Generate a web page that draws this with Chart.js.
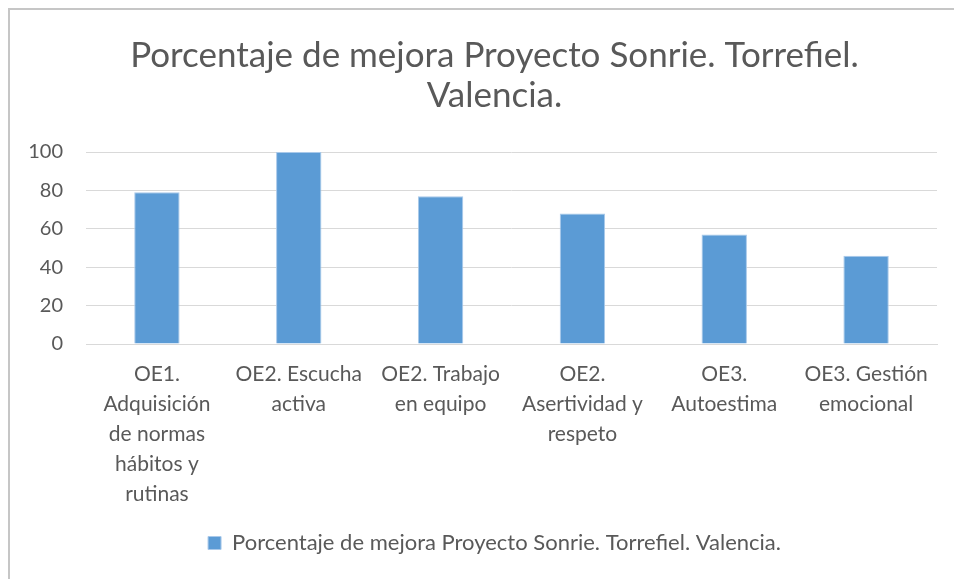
<!DOCTYPE html>
<html>
<head>
<meta charset="utf-8">
<script src="https://cdn.jsdelivr.net/npm/chart.js@4"></script>
<style>
    html, body { margin: 0; padding: 0; background: #ffffff; overflow: hidden; }
    #frame {
        position: absolute;
        left: 8px;
        top: 8px;
        width: 971px;
        height: 571px;
        border-top: 2px solid #c6c6c6;
        border-left: 2px solid #c6c6c6;
    }
    #chartBox { width: 969px; height: 569px; }
</style>
</head>
<body>
<div id="frame">
    <div id="chartBox"><canvas id="barChart"></canvas></div>
</div>
<script>
const chartTitle = ["Porcentaje de mejora Proyecto Sonrie. Torrefiel.", "Valencia."];
const seriesName = "Porcentaje de mejora Proyecto Sonrie. Torrefiel. Valencia.";

const categories = [
    ["OE1.", "Adquisición", "de normas", "hábitos y", "rutinas"],
    ["OE2. Escucha", "activa"],
    ["OE2. Trabajo", "en equipo"],
    ["OE2.", "Asertividad y", "respeto"],
    ["OE3.", "Autoestima"],
    ["OE3. Gestión", "emocional"]
];
const mejora = [79, 100, 77, 68, 57, 46];

const yTicks = [0, 20, 40, 60, 80, 100];

const textColor = "#595959";
const fontFamily = "Lato, 'Liberation Sans', sans-serif";

const dataBar = {
    labels: categories,
    datasets: [{
        label: seriesName,
        data: mejora,
        backgroundColor: "#5b9bd5",
        borderColor: "#a9c9ea",
        borderWidth: 1,
        barPercentage: 0.32,
        categoryPercentage: 1
    }]
};

const configBar = {
    type: "bar",
    data: dataBar,
    options: {
        responsive: true,
        maintainAspectRatio: false,
        animation: false,
        layout: { padding: { left: 0, right: 0, top: 0, bottom: 15 } },
        plugins: {
            title: {
                display: true,
                text: chartTitle,
                color: textColor,
                font: { family: fontFamily, size: 35, weight: "normal", lineHeight: 40 / 35 },
                padding: { top: 26, bottom: 36 }
            },
            legend: {
                display: true,
                position: "bottom",
                labels: {
                    color: textColor,
                    font: { family: fontFamily, size: 22 },
                    boxWidth: 13,
                    boxHeight: 13,
                    padding: 10
                }
            },
            tooltip: { enabled: false }
        },
        scales: {
            x: {
                grid: { display: false, drawTicks: false },
                border: { color: "#d9d9d9" },
                ticks: {
                    color: textColor,
                    font: { family: fontFamily, size: 21, lineHeight: 30 / 21 },
                    padding: 15,
                    maxRotation: 0,
                    autoSkip: false
                },
                afterFit: scale => { scale.height = 178; }
            },
            y: {
                min: 0,
                max: 100,
                afterBuildTicks: scale => { scale.ticks = yTicks.map(v => ({ value: v })); },
                grid: { color: "#d9d9d9", drawTicks: false },
                border: { display: false },
                ticks: {
                    color: textColor,
                    font: { family: fontFamily, size: 20 },
                    padding: 23
                },
                afterFit: scale => { scale.width = 76; }
            },
            // empty right axis, only keeps space so title and legend stay centred on the whole chart
            yRight: {
                position: "right",
                display: true,
                grid: { display: false, drawTicks: false },
                border: { display: false },
                ticks: { display: false },
                afterFit: scale => { scale.width = 42; }
            }
        }
    }
};

const ctxBar = document.getElementById("barChart").getContext("2d");
new Chart(ctxBar, configBar);
</script>
</body>
</html>
